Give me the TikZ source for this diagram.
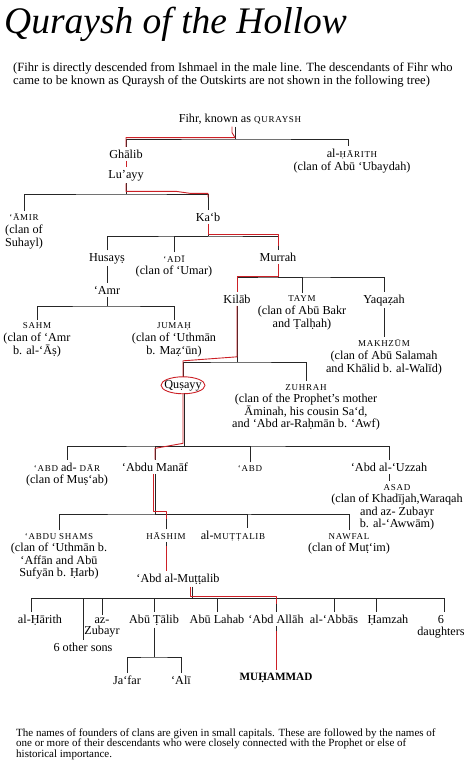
\documentclass[tikz,border=0pt]{standalone}
\usepackage{fontspec}
\setmainfont{Liberation Serif}
\newfontfamily\capsfont[LetterSpace=8]{Liberation Serif}
\usetikzlibrary{shapes, arrows, calc, positioning}

\definecolor{lineage}{RGB}{204,32,38}
\newcommand{\sct}[1]{{\capsfont\fontsize{9}{9}\selectfont #1}}

\begin{document}
\begin{tikzpicture}[x=1pt, y=-1pt,
  person/.style = {anchor=base, align=center, inner sep=2.5pt, font=\fontsize{12.2}{12.6}\selectfont},
  kin/.style = {draw=black!85, line width=0.75pt},
  blood/.style = {draw=lineage, line width=0.9pt, line join=round}]
\useasboundingbox (0,0) rectangle (474,766);

% heading (base = last line)
\node[anchor=base west, inner sep=0pt, font=\fontsize{37.5}{40}\selectfont\itshape] (title) at (4,33) {Quraysh of the Hollow};
\node[anchor=base west, inner sep=0pt, align=left, font=\fontsize{12.6}{13}\selectfont] (intro) at (13,84) {(Fihr is directly descended from Ishmael in the male line. The descendants of Fihr who\\came to be known as Quraysh of the Outskirts are not shown in the following tree)};

% the tree
\node[person] (fihr) at (240,122) {Fihr, known as \sct{QURAYSH}};
\node[person] (ghalib) at (126,158) {Ghālib};
\node[person] (harith) at (352,170) {al-\sct{ḤĀRITH}\\(clan of Abū ‘Ubaydah)};
\node[person] (luayy) at (126,178) {Lu’ayy};
\node[person] (amir) at (24,246) {\sct{‘ĀMIR}\\(clan of\\Suhayl)};
\node[person] (kab) at (208,221) {Ka‘b};
\node[person] (husays) at (107,261) {Husayṣ};
\node[person] (adi) at (174,274.6) {\sct{‘ADĪ}\\(clan of ‘Umar)};
\node[person] (murrah) at (278,261) {Murrah};
\node[person] (amr) at (107,294) {‘Amr};
\node[person] (sahm) at (37,354) {\sct{SAHM}\\(clan of ‘Amr\\b. al-‘Āṣ)};
\node[person] (jumah) at (174,354) {\sct{JUMAḤ}\\(clan of ‘Uthmān\\b. Maẓ‘ūn)};
\node[person] (kilab) at (237,303) {Kilāb};
\node[person] (taym) at (302,327) {\sct{TAYM}\\(clan of Abū Bakr\\and Ṭalḥah)};
\node[person] (yaqazah) at (384,303) {Yaqaẓah};
\node[person] (makhzum) at (384,372) {\sct{MAKHZŪM}\\(clan of Abū Salamah\\and Khālid b. al-Walīd)};
\node[person] (qusayy) at (183,388) {Quṣayy};
\node[person] (zuhrah) at (306,427.8) {\sct{ZUHRAH}\\(clan of the Prophet’s mother\\Āminah, his cousin Sa‘d,\\and ‘Abd ar-Raḥmān b. ‘Awf)};
\node[person] (abddar) at (67,483.6) {\sct{‘ABD} ad- \sct{DĀR}\\(clan of Muṣ‘ab)};
\node[person] (abdumanaf) at (155,471) {‘Abdu Manāf};
\node[person] (abd) at (250,471) {\sct{‘ABD}};
\node[person] (uzzah) at (389,471) {‘Abd al-‘Uzzah};
\node[person] (asad) at (397,527.8) {\sct{ASAD}\\(clan of Khadījah,Waraqah\\and az- Zubayr\\b. al-‘Awwām)};
\node[person] (abdushams) at (59,576.8) {\sct{‘ABDU SHAMS}\\(clan of ‘Uthmān b.\\‘Affān and Abū\\Sufyān b. Ḥarb)};
\node[person] (hashim) at (166,539) {\sct{HĀSHIM}};
\node[person] (muttalib) at (233,539) {al-\sct{MUṬṬALIB}};
\node[person] (nawfal) at (349,551.6) {\sct{NAWFAL}\\(clan of Muṭ‘im)};
\node[person] (abdmuttalib) at (178,582) {‘Abd al-Muṭṭalib};
\node[person] (harith2) at (40,623) {al-Ḥārith};
\node[person] (othersons) at (83,651) {6 other sons};
\node[person, font=\fontsize{12.2}{11}\selectfont] (zubayr) at (102,634) {az-\\Zubayr};
\node[person] (abutalib) at (154,623) {Abū Ṭālib};
\node[person] (abulahab) at (217,623) {Abū Lahab};
\node[person] (abdallah) at (276,623) {‘Abd Allāh};
\node[person] (abbas) at (334,623) {al-‘Abbās};
\node[person] (hamzah) at (388,623) {Ḥamzah};
\node[person] (daughters) at (441,635.6) {6\\daughters};
\node[person] (jafar) at (127,684) {Ja‘far};
\node[person] (ali) at (181,684) {‘Alī};
\node[person, font=\fontsize{11.2}{12}\selectfont\bfseries] (muhammad) at (276,680) {MUḤAMMAD};

% bars
\coordinate (b1) at (235,139);
\coordinate (b2) at (126,194);
\coordinate (b3) at (208,236);
\coordinate (b4) at (107,306);
\coordinate (b5) at (278,277);
\coordinate (b6) at (237,362);
\coordinate (b7) at (184,446);
\coordinate (b8) at (155,514);
\coordinate (b9) at (192,598);
\coordinate (b10) at (154,657);

\draw[kin] ([xshift=-5pt]fihr.south) -- (b1);
\draw[kin] (ghalib.north) |- (b1) -| ([xshift=-4pt]harith.north);
\draw[kin] (ghalib) -- (luayy);
\draw[kin] (luayy.south) -- (b2);
\draw[kin] (amir.north) |- (b2) -| (kab.north);
\draw[kin] (kab.south) -- (b3);
\draw[kin] (husays.north) |- (b3) -| (murrah.north);
\draw[kin] (adi.north) |- (b3);
\draw[kin] (husays) -- (amr);
\draw[kin] (amr.south) -- (b4);
\draw[kin] (sahm.north) |- (b4) -| (jumah.north);
\draw[kin] (murrah.south) -- (b5);
\draw[kin] (kilab.north) |- (b5) -| (yaqazah.north);
\draw[kin] (taym.north) |- (b5);
\draw[kin] (yaqazah) -- (makhzum);
\draw[kin] (kilab.south) -- (b6);
\draw[kin] (qusayy.north) |- (b6) -| (zuhrah.north);
\draw[kin] ([xshift=1pt]qusayy.south) -- (b7);
\draw[kin] (abddar.north) |- (b7) -| (uzzah.north);
\draw[kin] (abdumanaf.north) |- (b7);
\draw[kin] (abd.north) |- (b7);
\draw[kin] (uzzah.south) -- (uzzah.south |- asad.north);
\draw[kin] (abdumanaf.south) -- (b8);
\draw[kin] (abdushams.north) |- (b8) -| (nawfal.north);
\draw[kin] (hashim.north) |- (b8);
\draw[kin] ([xshift=14pt]muttalib.north) |- (b8);
\draw[kin] (hashim.south) -- (hashim.south |- abdmuttalib.north);
\draw[kin] ([xshift=14pt]abdmuttalib.south) -- (b9);
\draw[kin] ([xshift=-9pt]harith2.north) |- (b9) -| ([xshift=3pt]daughters.north);
\draw[kin] (othersons.north) |- (b9);
\draw[kin] (zubayr.north) |- (b9);
\draw[kin] (abutalib.north) |- (b9);
\draw[kin] (abulahab.north) |- (b9);
\draw[kin] (abdallah.north) |- (b9);
\draw[kin] (abbas.north) |- (b9);
\draw[kin] ([xshift=-12pt]hamzah.north) |- (b9);
\draw[kin] (abutalib.south) -- (b10);
\draw[kin] (jafar.north) |- (b10) -| (ali.north);
\draw[kin] (abdallah) -- (muhammad);

% the Prophet's line, marked in red
\draw[blood] ([xshift=-8pt]fihr.south) -- ++(0,6) -- ++(3,5) -| (ghalib.north);
\draw[blood] (ghalib) -- (luayy);
\draw[blood] (luayy.south) -- ++(0,8) -- ++(50,0) -- ++(14,2) -- ++(18,0) -- ++(0,4);
\draw[blood] (kab.south) -- ++(0,11) -| ([yshift=4pt]murrah.north);
\draw[blood] (murrah.south) -- ++(0,13) -| (kilab.north);
\draw[blood] (kilab.south) -- ++(0,51) -- ++(-54,4) -- (qusayy.north);
\draw[blood] (qusayy) ellipse (22pt and 8.5pt);
\draw[blood] (qusayy.south) -- ++(0,50) -- ++(-28,5) -- (abdumanaf.north);
\draw[blood] ([xshift=-2pt]abdumanaf.south) -- ++(0,38) -| ([yshift=10pt]hashim.north);
\draw[blood] ([yshift=-4pt]hashim.south) -- (hashim.south |- abdmuttalib.north);
\draw[blood] ([xshift=12pt]abdmuttalib.south) -- ++(0,10) -| ([yshift=8pt]abdallah.north);
\draw[blood] ([yshift=-5pt]abdallah.south) -- (muhammad.north);

% footnote
\node[anchor=base west, inner sep=0pt, align=left, font=\fontsize{11}{10.7}\selectfont] (note) at (16,757.4) {The names of founders of clans are given in small capitals. These are followed by the names of\\one or more of their descendants who were closely connected with the Prophet or else of\\historical importance.};
\end{tikzpicture}
\end{document}
